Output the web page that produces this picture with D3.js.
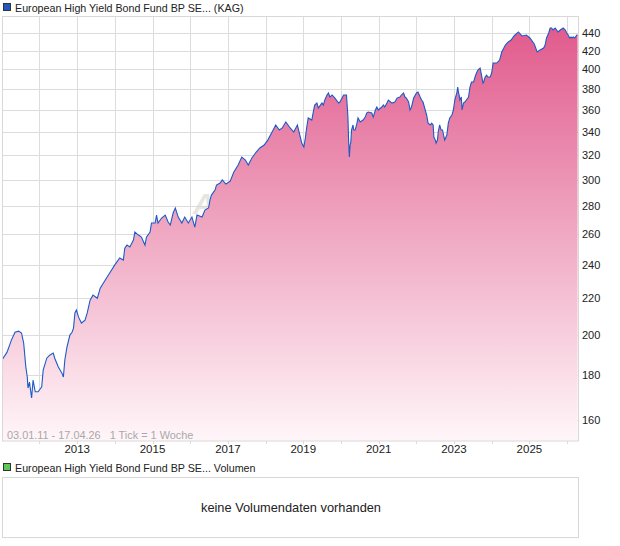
<!DOCTYPE html>
<html><head><meta charset="utf-8">
<script src="https://cdn.jsdelivr.net/npm/d3@7"></script>
<style>body{margin:0;background:#fff} svg{display:block} text{font-family:"Liberation Sans",Arial,sans-serif}</style>
</head><body><svg id="c" width="620" height="546"></svg>
<script>
// weeks since 03.01.2011 (1 Tick = 1 Woche)
const weeks=[0,7,13,18,23,27,30,33,35,36,38,41,43,46,50,55,57,62,66,71,73,78,83,85,87,90,94,97,99,101,103,106,110,115,118,122,126,132,136,143,150,156,163,168,170,173,177,182,184,189,193,198,200,205,207,212,214,216,221,226,230,233,237,240,244,249,253,258,263,267,270,277,281,286,288,290,295,297,302,305,310,316,321,327,332,337,341,346,352,357,363,368,374,379,384,388,393,399,404,409,413,415,418,420,422,424,429,431,433,436,438,443,445,447,450,452,454,457,461,466,468,473,477,479,480,481,482,483,484,486,487,489,491,493,496,500,503,505,507,512,514,517,519,521,526,528,530,533,535,540,544,547,551,553,556,558,560,563,565,567,570,574,576,579,581,583,586,588,590,593,595,597,598,600,601,603,604,606,608,610,612,613,616,618,620,623,625,627,630,631,632,633,634,636,637,639,641,643,646,648,650,653,655,657,659,662,664,666,667,669,671,673,676,678,680,685,689,692,697,701,705,709,715,720,726,731,737,741,745,750,752,754,757,759,761,763,766,768,770,773,777,780,782,784,786,788,789,791,793,796,797];
const values=[187.2,191.1,197.2,201.3,201.9,200.9,195.7,183.8,179.1,174.0,176.7,169.5,177.6,172.3,172.3,174.6,182.3,188.1,189.6,190.6,188.1,183.8,180.9,179.1,187.2,193.7,199.8,201.3,203.5,211.7,213.3,209.4,206.2,207.8,211.7,218.9,221.8,220.0,225.9,230.7,235.6,239.9,244.4,243.1,250.8,252.8,251.5,256.1,261.5,259.5,258.1,252.8,258.1,261.5,267.8,267.8,273.4,267.8,271.3,273.4,268.5,266.4,274.9,278.5,272.0,267.8,272.0,267.8,272.0,265.0,273.4,272.0,277.0,278.5,284.3,288.1,291.9,295.7,297.3,299.7,296.5,298.8,306.0,311.6,318.2,315.7,311.6,317.4,322.4,325.8,328.3,332.6,339.7,346.0,341.5,343.3,348.7,343.3,339.7,346.0,335.3,330.0,326.6,334.4,344.2,352.4,350.5,357.9,364.5,366.4,361.7,366.4,364.5,369.3,374.2,376.2,372.2,374.2,371.2,366.4,367.4,374.2,374.2,353.2,330.9,318.2,328.3,330.9,341.5,346.0,341.5,341.5,346.0,352.4,348.7,350.5,353.2,357.0,357.9,357.0,353.2,359.8,362.6,359.8,362.6,364.5,362.6,366.4,369.3,366.4,367.4,371.2,372.2,374.2,376.2,372.2,371.2,367.4,359.8,362.6,371.2,376.2,377.1,372.2,369.3,367.4,359.8,355.1,347.7,346.0,347.7,346.0,335.3,332.6,330.0,332.6,339.7,346.0,341.5,341.5,335.3,332.6,337.0,347.7,352.4,355.1,359.8,369.3,377.1,382.1,377.1,374.2,369.3,372.2,359.8,366.4,367.4,369.3,372.2,382.1,387.1,387.1,392.2,396.3,399.4,401.5,394.2,386.1,387.1,392.2,394.2,392.2,392.2,396.3,406.8,406.8,410.0,418.7,426.4,429.8,432.0,436.6,441.2,436.6,437.7,434.3,427.5,418.7,420.8,423.1,426.4,434.3,440.0,445.8,445.8,443.5,445.8,443.5,441.2,443.5,445.8,443.5,440.0,437.7,434.3,435.4,434.3,435.4,434.3,437.7,437.7];
const yTicks=[160,180,200,220,240,260,280,300,320,340,360,380,400,420,440];
const labelYears=[2013,2015,2017,2019,2021,2023,2025];
const gridYears=[2012,2013,2014,2015,2016,2017,2018,2019,2020,2021,2022,2023,2024,2025,2026];
const titleText="European High Yield Bond Fund BP SE... (KAG)";
const volTitle="European High Yield Bond Fund BP SE... Volumen";
const rangeText="03.01.11 - 17.04.26   1 Tick = 1 Woche";
const noVolText="keine Volumendaten vorhanden";

const startDate=new Date(2011,0,3), endDate=new Date(2026,3,17);
const data=weeks.map((w,i)=>({d:d3.timeDay.offset(startDate,w*7),v:values[i]}));

const svg=d3.select("#c");
const L=2,R=578,T=16.5,B=441;
const x=d3.scaleTime().domain([startDate,endDate]).range([L,R]);
const y=d3.scaleLog().domain([151.5,459.4]).range([B,T]);

const defs=svg.append("defs");
const g=defs.append("linearGradient").attr("id","fillg").attr("gradientUnits","userSpaceOnUse")
  .attr("x1",0).attr("x2",0).attr("y1",T).attr("y2",B);
g.append("stop").attr("offset","0%").attr("stop-color","#e0578a");
g.append("stop").attr("offset","100%").attr("stop-color","#fff6f9");
defs.append("clipPath").attr("id","clip").append("rect").attr("x",L).attr("y",T).attr("width",R-L).attr("height",B-T);

// legend
svg.append("rect").attr("x",3.5).attr("y",3.5).attr("width",7).attr("height",7).attr("fill","#2157c0").attr("stroke","#333").attr("stroke-width",1);
svg.append("text").attr("x",15).attr("y",11.5).attr("font-size",10.7).attr("fill","#222").text(titleText);

// grid
const grid=svg.append("g").attr("stroke","#dcdcdc").attr("stroke-width",1);
grid.selectAll("line.h").data(yTicks).join("line").attr("class","h")
  .attr("x1",L).attr("x2",R).attr("y1",d=>Math.round(y(d))+0.5).attr("y2",d=>Math.round(y(d))+0.5);
grid.selectAll("line.v").data(gridYears).join("line").attr("class","v")
  .attr("x1",d=>Math.round(x(new Date(d,0,1)))+0.5).attr("x2",d=>Math.round(x(new Date(d,0,1)))+0.5)
  .attr("y1",T).attr("y2",B+3);

// watermark
svg.append("text").attr("x",193).attr("y",214).attr("font-size",30).attr("font-weight","bold").attr("font-style","italic")
  .attr("fill","#d8d4d0").attr("opacity",0.6).text("A");

// area + line
const area=d3.area().x(d=>x(d.d)).y0(B).y1(d=>y(d.v));
const line=d3.line().x(d=>x(d.d)).y(d=>y(d.v));
const pg=svg.append("g").attr("clip-path","url(#clip)");
pg.append("path").datum(data).attr("d",area).attr("fill","url(#fillg)");
pg.append("path").datum(data).attr("d",line).attr("fill","none").attr("stroke","#1d5ac8").attr("stroke-width",1.1);

// frame
svg.append("rect").attr("x",L+0.5).attr("y",T).attr("width",R-L).attr("height",B-T).attr("fill","none").attr("stroke","#d8d8d8");

// range text
svg.append("text").attr("x",7).attr("y",439).attr("font-size",10.9).attr("fill","#a8a8a8").attr("xml:space","preserve").style("white-space","pre").text(rangeText);

// y labels
svg.append("g").selectAll("text").data(yTicks).join("text")
  .attr("x",582).attr("y",d=>y(d)+4).attr("font-size",11).attr("fill","#222").text(d=>d);

// x labels
svg.append("g").selectAll("text").data(labelYears).join("text")
  .attr("x",d=>x(new Date(d,0,1))).attr("y",453).attr("text-anchor","middle").attr("font-size",11.5).attr("fill","#222").text(d=>d);

// volume panel
svg.append("rect").attr("x",3.5).attr("y",463.5).attr("width",7).attr("height",7).attr("fill","#5cc85c").attr("stroke","#333");
svg.append("text").attr("x",15).attr("y",472).attr("font-size",10.7).attr("fill","#222").text(volTitle);
svg.append("rect").attr("x",L+0.5).attr("y",477.5).attr("width",R-L).attr("height",60).attr("fill","none").attr("stroke","#d8d8d8");
svg.append("text").attr("x",291).attr("y",512).attr("text-anchor","middle").attr("font-size",12.8).attr("fill","#222").text(noVolText);
</script></body></html>
